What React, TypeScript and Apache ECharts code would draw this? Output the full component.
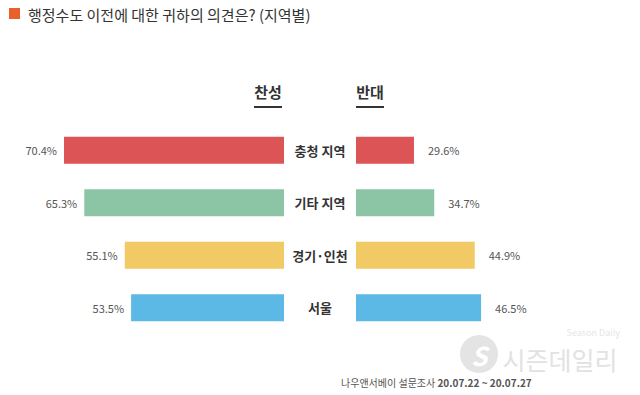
import React, { useEffect, useRef } from "react";
import * as echarts from "echarts";

const regions = ["충청 지역", "기타 지역", "경기·인천", "서울"];
const agree = [70.4, 65.3, 55.1, 53.5];
const disagree = [29.6, 34.7, 44.9, 46.5];
const colors = ["#DD5457", "#8CC4A6", "#F1CA66", "#5CB8E5"];
const title = "행정수도 이전에 대한 귀하의 의견은? (지역별)";
const headers = ["찬성", "반대"];

const FONT = "'Noto Sans CJK KR', 'Noto Sans', sans-serif";

export default function App() {
  const ref = useRef<HTMLDivElement>(null);
  useEffect(() => {
    if (!ref.current) return;
    const chart = echarts.init(ref.current, null, { renderer: "svg" });
    const scaleMin = 15;
    const pxPerUnit = 220 / (agree[0] - scaleMin);
    const rightWidth = 200;
    chart.setOption({
      animation: false,
      textStyle: { fontFamily: FONT },
      grid: [
        { left: 64, width: 220, top: 124, height: 210 },
        { left: 356, width: rightWidth, top: 124, height: 210 },
      ],
      xAxis: [
        { gridIndex: 0, type: "value", inverse: true, min: scaleMin, max: agree[0], show: false },
        { gridIndex: 1, type: "value", min: scaleMin, max: scaleMin + rightWidth / pxPerUnit, show: false },
      ],
      yAxis: [
        { gridIndex: 0, type: "category", data: regions, inverse: true, show: false },
        {
          gridIndex: 1, type: "category", data: regions, inverse: true,
          axisLine: { show: false }, axisTick: { show: false }, splitLine: { show: false },
          axisLabel: { align: "center", margin: 36, fontSize: 13, fontWeight: "bold", color: "#333", fontFamily: FONT },
        },
      ],
      series: [
        {
          type: "bar", xAxisIndex: 0, yAxisIndex: 0, barWidth: 27,
          data: agree.map((v, i) => ({ value: v, itemStyle: { color: colors[i] } })),
          label: { show: true, position: "left", distance: 7, formatter: "{c}%", fontSize: 11, color: "#555", fontFamily: FONT },
        },
        {
          type: "bar", xAxisIndex: 1, yAxisIndex: 1, barWidth: 27,
          data: disagree.map((v, i) => ({ value: v, itemStyle: { color: colors[i] } })),
          label: { show: true, position: "right", distance: 14, formatter: "{c}%", fontSize: 11, color: "#555", fontFamily: FONT },
        },
      ],
      graphic: [
        { type: "rect", shape: { x: 9, y: 8, width: 11, height: 11 }, style: { fill: "#E8612C" } },
        { type: "text", x: 28, y: 14, style: { text: title, font: `15px ${FONT}`, fill: "#333", verticalAlign: "middle" } },
        { type: "text", x: 268, y: 91, style: { text: headers[0], font: `bold 15px ${FONT}`, fill: "#333", align: "center", verticalAlign: "middle" } },
        { type: "line", shape: { x1: 254, y1: 107, x2: 282, y2: 107 }, style: { stroke: "#333", lineWidth: 2 } },
        { type: "text", x: 370, y: 91, style: { text: headers[1], font: `bold 15px ${FONT}`, fill: "#333", align: "center", verticalAlign: "middle" } },
        { type: "line", shape: { x1: 356, y1: 107, x2: 384, y2: 107 }, style: { stroke: "#333", lineWidth: 2 } },
        { type: "circle", shape: { cx: 479, cy: 354, r: 19 }, style: { fill: "#e4e4e4" } },
        { type: "text", x: 479, y: 354, style: { text: "S", font: `italic bold 26px ${FONT}`, fill: "#ffffff", align: "center", verticalAlign: "middle" } },
        { type: "text", x: 560, y: 359, style: { text: "시즌데일리", font: `25px ${FONT}`, fill: "#e2e2e2", align: "center", verticalAlign: "middle" } },
        { type: "text", x: 620, y: 332, style: { text: "Season Daily", font: `9px ${FONT}`, fill: "#e6e6e6", align: "right", verticalAlign: "middle" } },
        {
          type: "text", x: 341, y: 382,
          style: {
            text: "{a|나우앤서베이 설문조사 }{b|20.07.22 ~ 20.07.27}",
            verticalAlign: "middle",
            rich: {
              a: { fontSize: 10, fill: "#555", fontFamily: FONT },
              b: { fontSize: 10, fill: "#555", fontWeight: "bold", fontFamily: FONT },
            },
          },
        },
      ],
    });
    return () => chart.dispose();
  }, []);
  return <div ref={ref} style={{ width: 640, height: 395, position: "fixed", left: 0, top: 0, background: "#fff" }} />;
}
